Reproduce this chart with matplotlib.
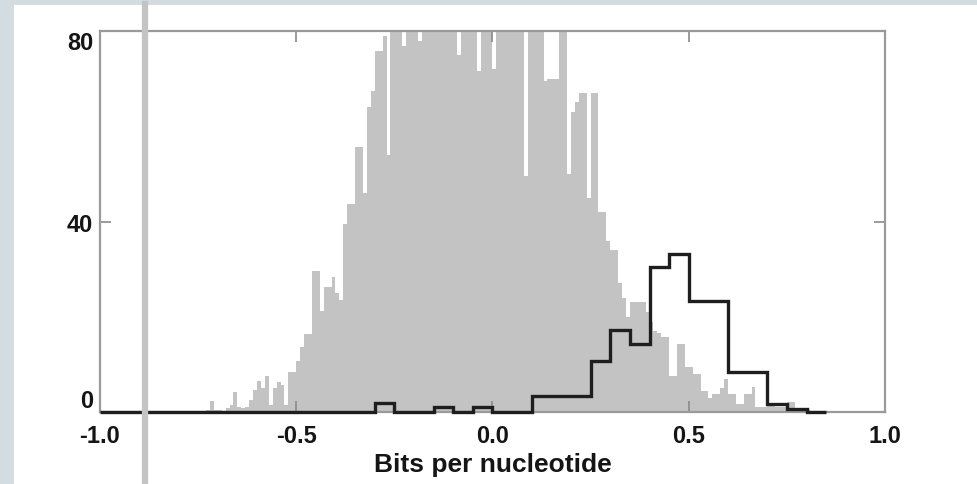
import numpy as np
import matplotlib
matplotlib.use("Agg")
import matplotlib.pyplot as plt

plt.rcParams['font.family'] = ['Liberation Sans', 'DejaVu Sans']
plt.rcParams['axes.unicode_minus'] = False

# fine histogram (gray), bins of 0.01 starting at -0.90
fine_start = -0.90
fine_width = 0.01
fine_counts = [
    0.3, 0, 0, 0, 0, 0.3, 0, 0, 0, 0.3,                      # -0.90 .. -0.81
    0, 0, 0, 0, 0.3, 0, 0, 0.5, 2.4, 0.5,                    # -0.80 .. -0.71
    0.5, 0.3, 0.8, 1.5, 4.1, 1.0, 0.8, 1.0, 2.5, 4.7,        # -0.70 .. -0.61
    6.6, 5.0, 7.6, 1.5, 5.0, 6.2, 5.6, 1.5, 8.4, 8.4,        # -0.60 .. -0.51
    10.8, 13.6, 16.4, 16.4, 29.7, 29.7, 21.3, 26.2, 26.2, 28.3,  # -0.50 .. -0.41
    25.0, 23.5, 39.5, 43.7, 43.7, 55.6, 55.6, 46.0, 64.0, 67.4,  # -0.40 .. -0.31
    75.8, 75.8, 79.0, 54.0, 90, 90, 90, 76.8, 90, 90,        # -0.30 .. -0.21
    90, 78, 90, 90, 90, 90, 90, 90, 90, 90,                  # -0.20 .. -0.11
    90, 75, 90, 90, 90, 90, 71.5, 90, 90, 90,                # -0.10 .. -0.01
    72, 90, 90, 90, 90, 90, 90, 90, 49.5, 90,                # 0.00 .. 0.09
    90, 90, 90, 69.5, 70, 70, 70, 90, 90, 50,                # 0.10 .. 0.19
    63, 65, 67, 67, 45, 67, 67, 42, 42, 36,                  # 0.20 .. 0.29
    34, 34, 27, 24, 20, 23, 23, 23, 23, 21,                  # 0.30 .. 0.39
    19, 17, 16.5, 15.7, 15.7, 7.6, 7.6, 14.3, 14.3, 9.4,     # 0.40 .. 0.49
    9.4, 8, 8, 4.5, 4.5, 3, 3.8, 3.8, 5, 7,                  # 0.50 .. 0.59
    3.8, 3.8, 1.7, 1.7, 3.8, 3.8, 5.2, 1, 1, 1,              # 0.60 .. 0.69
    1.7, 1.7, 1, 1, 1, 2, 2, 0.6, 0.6, 0.6,                  # 0.70 .. 0.79
    0.6, 0.3, 0.3, 0, 0,                                     # 0.80 .. 0.84
]

# coarse histogram (black outline), bins of 0.05 from -1.0 to 0.85
coarse_start = -1.0
coarse_width = 0.05
coarse_counts = [
    0, 0, 0, 0, 0, 0, 0, 0, 0, 0, 0, 0, 0, 0,   # -1.00 .. -0.35
    1.8, 0, 0, 1.0, 0, 1.0, 0, 0,               # -0.30 .. 0.05
    3.3, 3.3, 3.3, 10.7, 17.3, 14.3, 30.4, 33.2,  # 0.10 .. 0.45
    23.4, 23.4, 8.3, 8.3, 1.7, 0.6, 0,          # 0.50 .. 0.80
]

marker_x = -0.885

xticks = [-1.0, -0.5, 0.0, 0.5, 1.0]
yticks = [0, 40, 80]

W, H = 978, 485
fig = plt.figure(figsize=(W / 100, H / 100), dpi=100)
fig.patch.set_facecolor('#d2dce1')

# white sheet behind the plot
bg = fig.add_axes([14 / W, 0, 1 - 14 / W, (H - 6) / H], zorder=0)
bg.set_axis_off()
bg.add_patch(plt.Rectangle((0, 0), 1, 1, transform=bg.transAxes, facecolor='white', edgecolor='none'))

ax = fig.add_axes([100 / W, (H - 413) / H, 785 / W, 381 / H], zorder=1)
ax.set_facecolor('white')

fine_edges = fine_start + fine_width * np.arange(len(fine_counts) + 1)
coarse_edges = coarse_start + coarse_width * np.arange(len(coarse_counts) + 1)

ax.stairs(fine_counts, fine_edges, fill=True, color='#c3c3c3', zorder=1)
ax.stairs(coarse_counts, coarse_edges, color='#1e1e1e', linewidth=2.4, zorder=3, clip_on=False)

ax.axvline(marker_x, ymin=-0.19, ymax=1.07, color='#c4c4c4', linewidth=4.5,
           clip_on=False, zorder=4)

ax.set_xlim(-1.0, 1.0)
ax.set_ylim(0, 80)
ax.set_xticks(xticks)
ax.set_xticklabels([f"{t:.1f}" for t in xticks], fontweight='bold')
ax.set_yticks(yticks)
ax.set_yticklabels([str(t) for t in yticks], fontweight='bold')
ax.tick_params(direction='in', length=8, width=1.2, color='#8a8a8a',
               top=True, right=True, labelsize=17, labelcolor='#151515')
ax.tick_params(axis='x', pad=9)
ax.tick_params(axis='y', pad=5)
ylabels = ax.get_yticklabels()
ylabels[0].set_va('bottom')
ylabels[-1].set_va('top')
for s in ax.spines.values():
    s.set_color('#9a9a9a')
    s.set_linewidth(1.6)

ax.set_xlabel("Bits per nucleotide", fontsize=19, fontweight='bold', color='#151515', labelpad=3)

fig.savefig("out.png", dpi=100, facecolor=fig.get_facecolor())
